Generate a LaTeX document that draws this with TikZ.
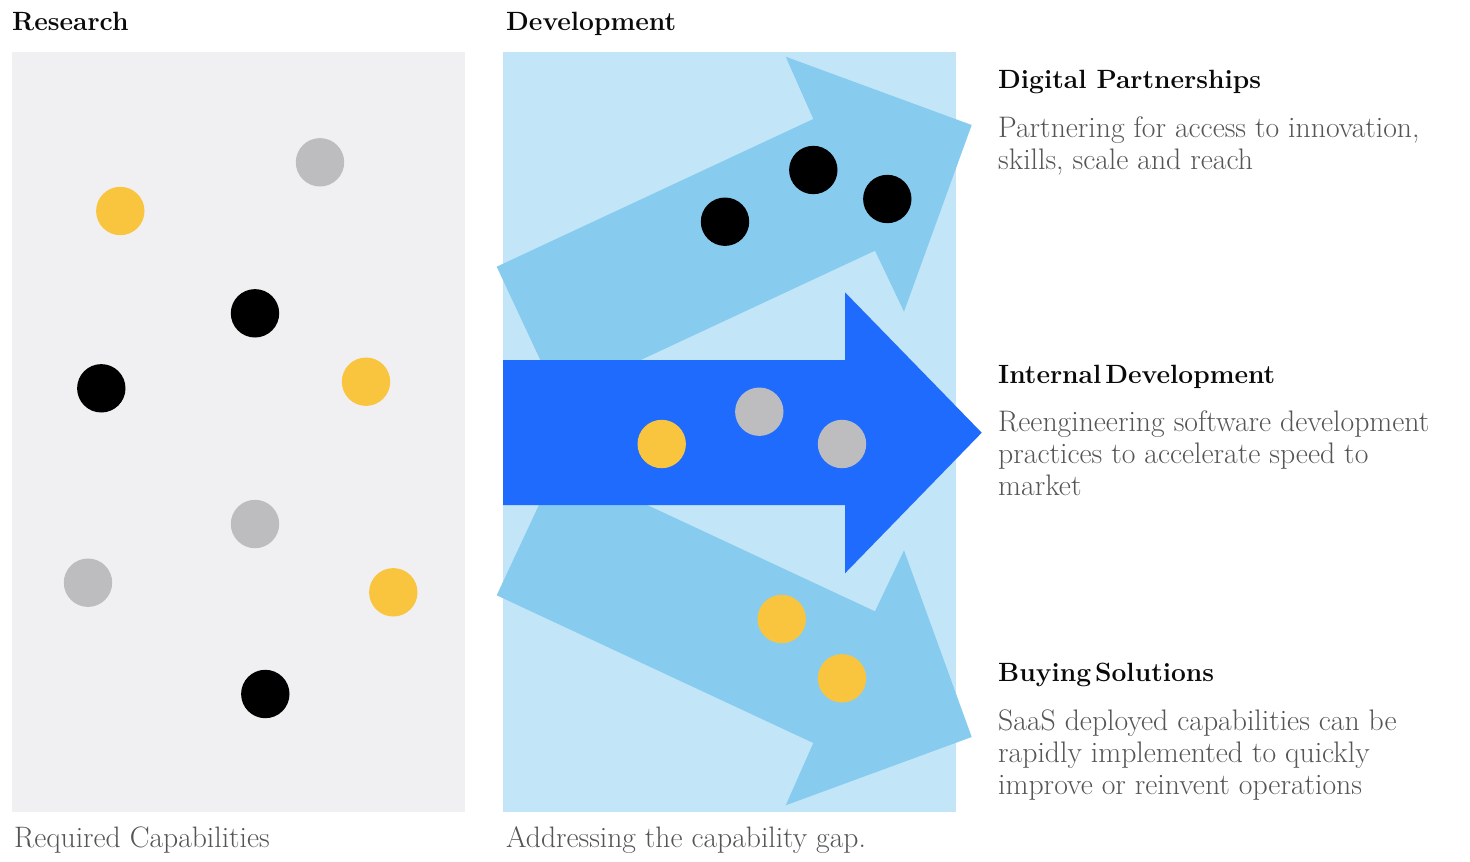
\documentclass[tikz,border=0pt]{standalone}
\usepackage{graphicx}
\definecolor{resbg}{HTML}{F0F0F2}
\definecolor{devbg}{HTML}{C2E6F8}
\definecolor{lightarrow}{HTML}{87CCEF}
\definecolor{darkarrow}{HTML}{1E6BFE}
\definecolor{dotyellow}{HTML}{F9C53E}
\definecolor{dotgrey}{HTML}{BDBDBF}
\definecolor{bodygrey}{HTML}{555555}
\definecolor{titleblack}{HTML}{0A0A0A}
\begin{document}
\begin{tikzpicture}[x=1pt,y=-1pt,
  dot/.style={circle,minimum size=48.4pt,inner sep=0pt,draw=none},
  ydot/.style={dot,fill=dotyellow},
  gdot/.style={dot,fill=dotgrey},
  bdot/.style={dot,fill=black},
  title/.style={anchor=base west,inner sep=0pt,text=titleblack,font=\bfseries\fontsize{26.4}{30}\selectfont},
  body/.style={anchor=base west,inner sep=0pt,text=bodygrey,font=\fontsize{29.7}{32}\selectfont},
  caption/.style={anchor=base west,inner sep=0pt,text=bodygrey,font=\fontsize{29.6}{32}\selectfont},
  larrow/.style={fill=lightarrow,draw=none},
  darrow/.style={fill=darkarrow,draw=none}]
\useasboundingbox (0,0) rectangle (1470,862);
\fill[white] (0,0) rectangle (1470,862);

% panels
\fill[resbg] (12,52) rectangle (465,811.7);
\fill[devbg] (503,52) rectangle (955.7,811.7);

% arrows
\fill[larrow] (496.7,266.7) -- (813.3,119) -- (785.7,56.7) -- (971.7,125) -- (904,311.7) -- (875,250.7) -- (558.3,398.5) -- cycle;
\fill[larrow] (496.7,595.3) -- (813.3,743) -- (785.7,805.3) -- (971.7,737) -- (904,550.3) -- (875,611.3) -- (558.3,463.5) -- cycle;
\fill[darrow] (503,360) -- (845,360) -- (845,292.3) -- (981.7,432.7) -- (845,573.3) -- (845,505) -- (503,505) -- cycle;

% research dots
\node[gdot] (r1) at (320,162.3) {};
\node[ydot] (r2) at (120.3,211) {};
\node[bdot] (r3) at (255,313.3) {};
\node[bdot] (r4) at (101.3,388.3) {};
\node[ydot] (r5) at (366,381.7) {};
\node[gdot] (r6) at (255,524) {};
\node[gdot] (r7) at (88,582.7) {};
\node[ydot] (r8) at (393.3,592.3) {};
\node[bdot] (r9) at (265.3,694) {};

% development dots
\node[bdot] (d1) at (725,221.7) {};
\node[bdot] (d2) at (813.3,170) {};
\node[bdot] (d3) at (887.3,199) {};
\node[ydot] (d4) at (661.7,444) {};
\node[gdot] (d5) at (759.3,411.7) {};
\node[gdot] (d6) at (842,444) {};
\node[ydot] (d7) at (781.7,619) {};
\node[ydot] (d8) at (842,678.3) {};

% headings
\node[title] (hres) at (12,30) {Research};
\node[title] (hdev) at (506,30) {Development};

% right texts
\node[title] (t1) at (998,88) {Digital Partnerships};
\node[body] (t1a) at (998,137.5) {Partnering for access to innovation,};
\node[body] (t1b) at (998,169.5) {skills, scale and reach};

\node[title] (t2) at (998,383) {Internal\hspace{4pt}Development};
\node[body] (t2a) at (998,431) {Reengineering software development};
\node[body] (t2b) at (998,463) {practices to accelerate speed to};
\node[body] (t2c) at (998,495) {market};

\node[title] (t3) at (998,681) {Buying\hspace{4pt}Solutions};
\node[body] (t3a) at (998,730) {SaaS deployed capabilities can be};
\node[body] (t3b) at (998,762) {rapidly implemented to quickly};
\node[body] (t3c) at (998,794) {improve or reinvent operations};

% captions
\node[caption] (c1) at (14,847) {Required Capabilities};
\node[caption] (c2) at (506,847) {Addressing the capability gap.};
\end{tikzpicture}
\end{document}
